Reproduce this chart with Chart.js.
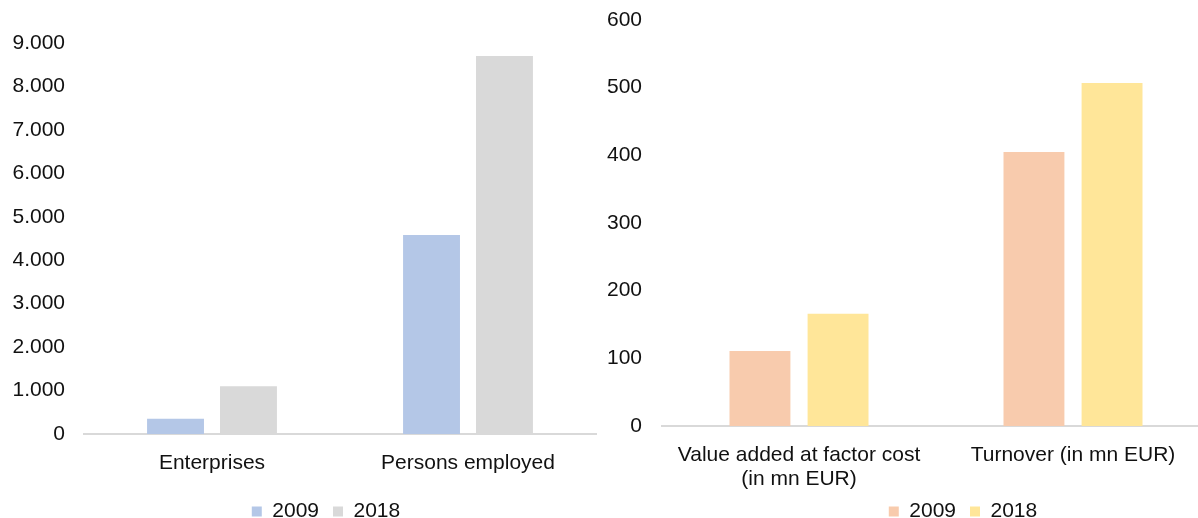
<!DOCTYPE html>
<html>
<head>
<meta charset="utf-8">
<script src="https://cdn.jsdelivr.net/npm/chart.js@4"></script>
<style>
  html, body { margin: 0; padding: 0; background: #fff; overflow: hidden; }
  body { width: 1198px; height: 518px; position: relative; }
  .box { position: absolute; top: 0; }
  #leftBox { left: 0; width: 600px; }
  #rightBox { left: 600px; width: 612px; }
</style>
</head>
<body>
<div class="box" id="leftBox"><canvas id="leftChart" width="600" height="523"></canvas></div>
<div class="box" id="rightBox"><canvas id="rightChart" width="612" height="537"></canvas></div>
<script>
const years = ["2009", "2018"];

const leftCategories = ["Enterprises", "Persons employed"];
const left2009 = [350, 4580];
const left2018 = [1100, 8700];
const leftTicks = ["0", "1.000", "2.000", "3.000", "4.000", "5.000", "6.000", "7.000", "8.000", "9.000"];

const rightCategories = [["Value added at factor cost", "(in mn EUR)"], "Turnover (in mn EUR)"];
const right2009 = [111, 405];
const right2018 = [166, 507];
const rightTicks = ["0", "100", "200", "300", "400", "500", "600"];

const FONT = { family: "'Liberation Sans', Arial, sans-serif", size: 21, lineHeight: 1.143 };
const TEXT = "#111111";

Chart.defaults.font = FONT;
Chart.defaults.color = TEXT;

// Excel puts its legends off-centre, so nudge the legend box after layout
const moveLegend = {
  id: "moveLegend",
  afterLayout(chart, args, opts) {
    const lg = chart.legend;
    if (!lg) return;
    lg.left += opts.dx;
    lg.right += opts.dx;
    lg.top += opts.dy;
    lg.bottom += opts.dy;
  }
};

function makeChart(id, cats, a, b, colors, ticks, step, o) {
  const ctx = document.getElementById(id).getContext("2d");
  return new Chart(ctx, {
    type: "bar",
    data: {
      labels: cats,
      datasets: [
        { label: years[0], data: a, backgroundColor: colors[0] },
        { label: years[1], data: b, backgroundColor: colors[1] }
      ]
    },
    options: {
      responsive: false,
      animation: false,
      devicePixelRatio: 1,
      categoryPercentage: 0.57,
      barPercentage: 0.78,
      layout: { padding: { top: o.top, right: o.right, left: 0, bottom: 0 } },
      scales: {
        x: {
          grid: { display: false, drawTicks: false },
          border: { display: true, color: "#d9d9d9", width: 2 },
          ticks: { padding: o.xPad, maxRotation: 0, autoSkip: false, color: TEXT },
          afterFit(scale) { scale.height = o.xHeight; }
        },
        y: {
          min: 0,
          max: step * (ticks.length - 1),
          // invisible tick marks give the label gap without the extra top padding
          grid: { display: false, drawTicks: true, tickLength: o.yGap },
          border: { display: false },
          ticks: {
            stepSize: step,
            padding: 0,
            color: TEXT,
            callback: (v) => ticks[Math.round(v / step)]
          },
          afterFit(scale) { scale.width = o.yWidth; }
        }
      },
      plugins: {
        legend: {
          position: "bottom",
          labels: { boxWidth: 10, boxHeight: 10, padding: 14, color: TEXT }
        },
        tooltip: { enabled: false },
        moveLegend: { dx: o.dx, dy: o.dy }
      }
    },
    plugins: [moveLegend]
  });
}

makeChart("leftChart", leftCategories, left2009, left2018, ["#b4c7e7", "#d9d9d9"], leftTicks, 1000,
  { top: 43, right: 4, xPad: 17, xHeight: 44, yGap: 19, yWidth: 84, dx: 28, dy: 9 });

makeChart("rightChart", rightCategories, right2009, right2018, ["#f8cbad", "#ffe699"], rightTicks, 100,
  { top: 20, right: 2, xPad: 17, xHeight: 66, yGap: 20, yWidth: 62, dx: 58, dy: -5 });
</script>
</body>
</html>
